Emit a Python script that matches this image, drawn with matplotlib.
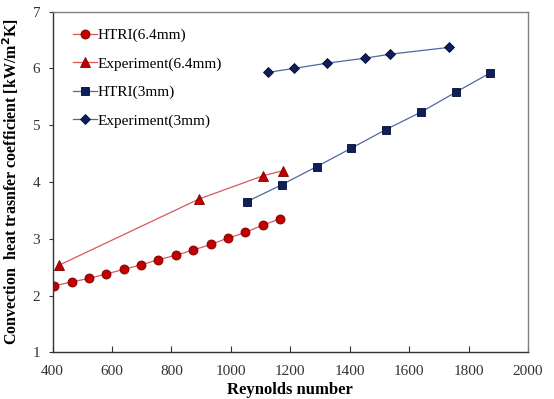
import numpy as np, matplotlib; matplotlib.use('Agg')
import matplotlib.pyplot as plt

plt.rcParams['font.family'] = ['Liberation Serif', 'DejaVu Serif']

# HTRI (6.4 mm)
re_htri64 = [405, 464, 522, 581, 639, 698, 756, 815, 873, 932, 990, 1049, 1107, 1166]
h_htri64 = [2.17, 2.24, 2.30, 2.38, 2.46, 2.54, 2.63, 2.71, 2.80, 2.90, 3.01, 3.11, 3.24, 3.35]
# Experiment (6.4 mm)
re_exp64 = [420, 893, 1109, 1177]
h_exp64 = [2.53, 3.70, 4.11, 4.20]
# HTRI (3 mm)
re_htri3 = [1053, 1171, 1289, 1404, 1521, 1640, 1757, 1873]
h_htri3 = [3.65, 3.95, 4.27, 4.59, 4.92, 5.23, 5.58, 5.92]
# Experiment (3 mm)
re_exp3 = [1126, 1213, 1322, 1452, 1537, 1735]
h_exp3 = [5.93, 6.00, 6.09, 6.18, 6.25, 6.37]

red, redline = '#C00000', '#D9595B'
navy, navyline = '#0E1F5B', '#5068A0'

fig = plt.figure(figsize=(5.54, 3.99), dpi=100)
ax = fig.add_axes([0.095, 0.117, 0.858, 0.854])

ax.plot(re_htri64, h_htri64, '-o', c=redline, lw=0.9, mfc=red, mec='#7A0000', mew=0.6, ms=6.5, label='HTRI(6.4mm)')
ax.plot(re_exp64, h_exp64, '-^', c=redline, lw=0.9, mfc=red, mec='#7A0000', mew=0.6, ms=7, label='Experiment(6.4mm)')
ax.plot(re_htri3, h_htri3, '-s', c=navyline, lw=0.9, mfc=navy, mec='#000C30', mew=0.6, ms=6, label='HTRI(3mm)')
ax.plot(re_exp3, h_exp3, '-D', c=navyline, lw=0.9, mfc=navy, mec='#000C30', mew=0.6, ms=5, label='Experiment(3mm)')

ax.set_xlim(400, 2000); ax.set_ylim(1, 7)
ax.set_xticks(np.arange(400, 2001, 200)); ax.set_yticks(np.arange(1, 8, 1))
ax.tick_params(axis='x', direction='in', length=4, labelsize=11, colors='#333333', pad=9)
ax.tick_params(axis='y', direction='out', length=3, labelsize=11, colors='#333333', pad=6)
for s in ['left', 'bottom']:
    ax.spines[s].set_color('#333333'); ax.spines[s].set_linewidth(1.0)
for s in ['top', 'right']:
    ax.spines[s].set_color('#808080'); ax.spines[s].set_linewidth(1.0)

ax.set_xlabel('Reynolds number', fontsize=12, fontweight='bold', labelpad=3)
ax.set_ylabel('Convection  heat trasnfer coefficient [kW/m$^{\\mathbf{2}}$K]', fontsize=11.5, fontweight='bold', labelpad=8)

ax.legend(loc='upper left', frameon=False, fontsize=11, handlelength=1.6, handletextpad=0.05,
          labelspacing=0.95, borderaxespad=0.6, bbox_to_anchor=(0.01, 0.995))

fig.savefig('out.png', dpi=100)
